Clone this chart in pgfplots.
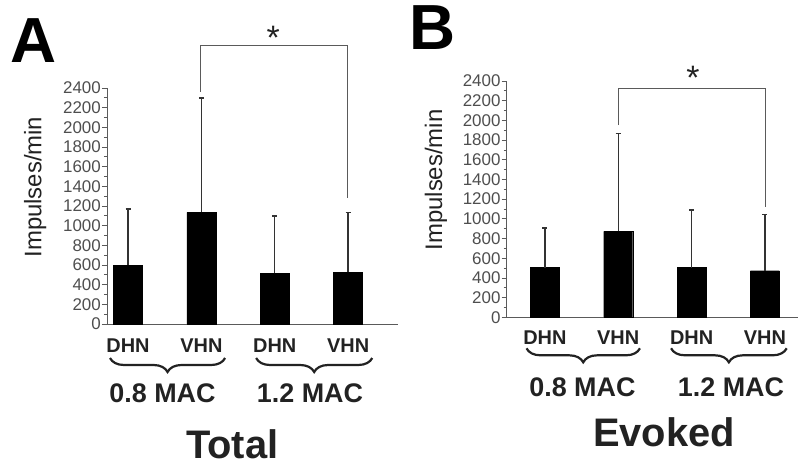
\documentclass[border=0pt]{standalone}
\usepackage{fontspec}
\setmainfont{Liberation Sans}
\usepackage{pgfplots}
\pgfplotsset{compat=1.18}
\usetikzlibrary{decorations.pathreplacing}
\definecolor{axgray}{HTML}{5A5A5A}
\definecolor{txt}{HTML}{222222}
\tikzset{brc/.style={txt, line width=2.2bp, decorate, decoration={brace, mirror, amplitude=14bp, aspect=0.5}}}
\pgfplotsset{
  panel/.style={
    scale only axis,
    width=291bp, height=236bp,
    ymin=0, ymax=2400,
    axis x line=bottom, axis y line=left,
    axis line style={-, axgray, line width=1bp},
    xtick={0,1,2,3},
    xticklabels={DHN,VHN,DHN,VHN},
    x tick style={draw=none},
    xticklabel style={font=\fontsize{20}{20}\selectfont\bfseries, text=txt, yshift=-6bp},
    ytick distance=200,
    minor y tick num=1,
    tick align=outside,
    major tick length=5bp, minor tick length=3bp,
    y tick style={axgray, line width=0.8bp},
    /pgf/number format/assume math mode=true,
    /pgf/number format/1000 sep={},
    yticklabel style={font=\fontsize{17}{17}\selectfont, text=txt!80, inner sep=1bp},
    ylabel={Impulses/min},
    ylabel style={font=\fontsize{24}{24}\selectfont, text=txt},
    clip=false,
  },
  bars/.style={ybar, bar width=29bp, fill=black, draw=black,
    error bars/.cd, y dir=plus, y explicit,
    error bar style={line width=1.3bp, color=black!80},
    error mark options={line width=1.6bp, mark size=2.5bp, rotate=90, color=black!80}},
}
\pgfplotstableread{
x y e
0 600 567
1 1135 1165
2 515 585
3 525 610
}\totaldata
\pgfplotstableread{
x y e
0 505 405
1 873 995
2 505 584
3 473 573
}\evokeddata
\begin{document}
\begin{tikzpicture}
\path[use as bounding box] (0,0) rectangle (800bp,-466bp);
% Panel A
\begin{axis}[panel, at={(107bp,-324bp)}, anchor=south west,
  xmin=-0.287, xmax=3.68,
  ylabel style={at={(axis description cs:-0.247,0.58)}, anchor=center}]
\addplot[bars] table[x=x, y=y, y error=e] {\totaldata};
\draw[axgray, line width=1.1bp] (axis cs:0.985,2363) -- (axis cs:0.985,2831) -- (axis cs:2.997,2831) -- (axis cs:2.997,1278);
\node[anchor=north, inner sep=0pt, font=\fontsize{34}{34}\selectfont, text=txt] at (axis cs:1.98,3030) {*};
\draw[brc] ([yshift=-34bp]axis cs:-0.246,0) -- ([yshift=-34bp]axis cs:1.323,0);
\draw[brc] ([yshift=-34bp]axis cs:1.746,0) -- ([yshift=-34bp]axis cs:3.329,0);
\node[font=\fontsize{27}{27}\selectfont\bfseries, text=txt] at (axis description cs:0.1907,-0.294) {0.8 MAC};
\node[font=\fontsize{27}{27}\selectfont\bfseries, text=txt] at (axis description cs:0.6976,-0.294) {1.2 MAC};
\node[font=\fontsize{40}{40}\selectfont\bfseries, text=txt] at (axis description cs:0.43,-0.51) {Total};
\node[font=\fontsize{64}{64}\selectfont\bfseries, text=black] at (axis description cs:-0.2526,1.2) {A};
\end{axis}
% Panel B
\begin{axis}[panel, at={(506.7bp,-317.3bp)}, anchor=south west,
  width=291.3bp, height=236.3bp,
  xmin=-0.52, xmax=3.45,
  xticklabel style={yshift=1bp},
  ylabel style={at={(axis description cs:-0.243,0.581)}, anchor=center}]
\addplot[bars] table[x=x, y=y, y error=e] {\evokeddata};
\draw[axgray, line width=1.1bp] (axis cs:1.0,1952) -- (axis cs:1.0,2325) -- (axis cs:3.01,2325) -- (axis cs:3.01,1123);
\node[anchor=north, inner sep=0pt, font=\fontsize{34}{34}\selectfont, text=txt] at (axis cs:2.02,2550) {*};
\draw[brc] ([yshift=-31bp]axis cs:-0.25,0) -- ([yshift=-31bp]axis cs:1.296,0);
\draw[brc] ([yshift=-31bp]axis cs:1.72,0) -- ([yshift=-31bp]axis cs:3.296,0);
\node[font=\fontsize{27}{27}\selectfont\bfseries, text=txt] at (axis description cs:0.26,-0.294) {0.8 MAC};
\node[font=\fontsize{27}{27}\selectfont\bfseries, text=txt] at (axis description cs:0.77,-0.294) {1.2 MAC};
\node[font=\fontsize{40}{40}\selectfont\bfseries, text=txt] at (axis description cs:0.54,-0.4875) {Evoked};
\node[font=\fontsize{64}{64}\selectfont\bfseries, text=black] at (axis description cs:-0.253,1.226) {B};
\end{axis}
\end{tikzpicture}
\end{document}
